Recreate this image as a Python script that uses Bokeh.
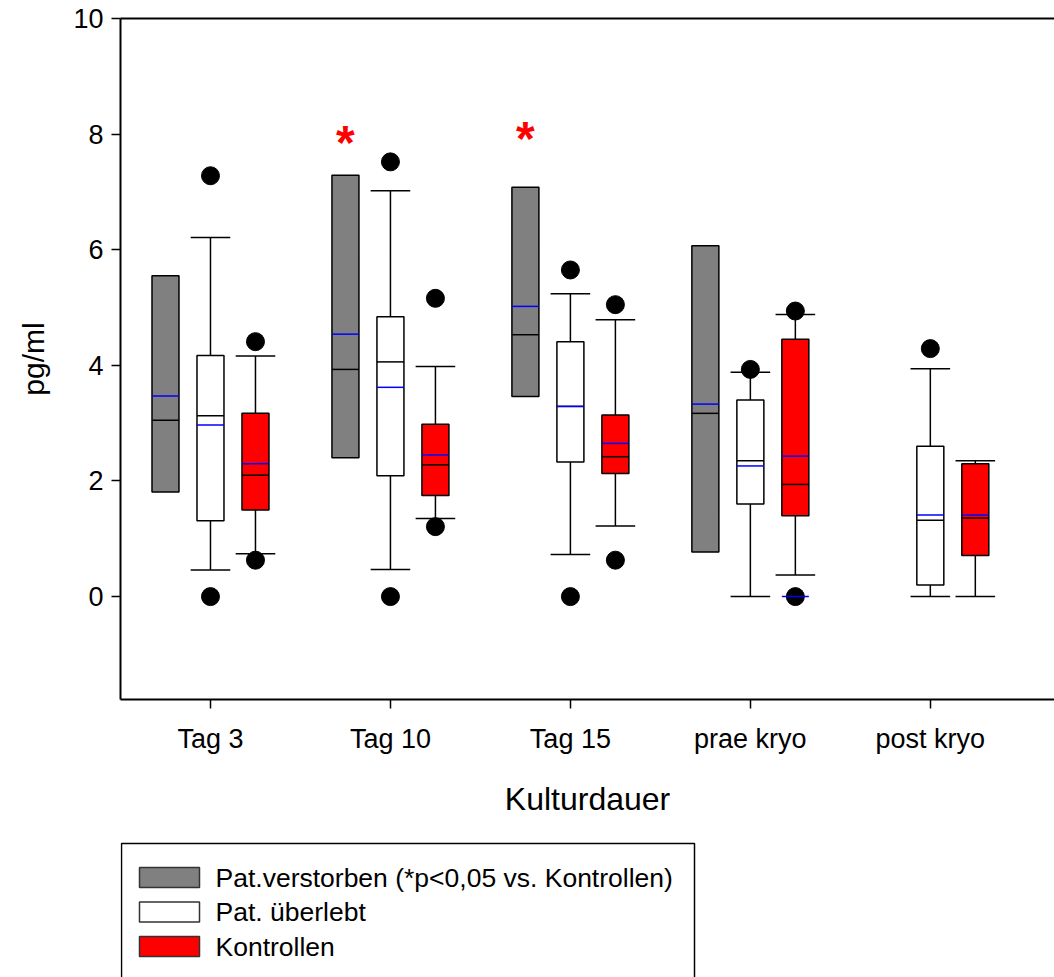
import math
from bokeh.plotting import figure
from bokeh.models import Range1d, FixedTicker, LinearAxis
from bokeh.layouts import column
from bokeh.core.properties import value
from bokeh.embed import file_html
from bokeh.resources import INLINE

nan = float("nan")

categories = ["Tag 3", "Tag 10", "Tag 15", "prae kryo", "post kryo"]

# Pat. verstorben (grey) - no whiskers
verst_q1 = [1.81, 2.40, 3.46, 0.77, nan]
verst_med = [3.05, 3.93, 4.53, 3.17, nan]
verst_mean = [3.47, 4.54, 5.02, 3.33, nan]
verst_q3 = [5.55, 7.29, 7.08, 6.07, nan]

# Pat. ueberlebt (white)
ueb_low = [0.46, 0.47, 0.73, 0.0, 0.0]
ueb_q1 = [1.31, 2.09, 2.33, 1.60, 0.20]
ueb_med = [3.13, 4.06, 3.29, 2.35, 1.32]
ueb_mean = [2.97, 3.62, 3.29, 2.26, 1.41]
ueb_q3 = [4.17, 4.84, 4.41, 3.40, 2.60]
ueb_high = [6.21, 7.02, 5.24, 3.88, 3.94]
ueb_out = [[7.28, 0.0], [7.52, 0.0], [5.65, 0.0], [3.93], [4.29]]

# Kontrollen (red)
kon_low = [0.74, 1.35, 1.22, 0.375, 0.0]
kon_q1 = [1.50, 1.75, 2.13, 1.40, 0.71]
kon_med = [2.10, 2.28, 2.42, 1.94, 1.36]
kon_mean = [2.30, 2.45, 2.65, 2.43, 1.41]
kon_q3 = [3.17, 2.98, 3.14, 4.45, 2.30]
kon_high = [4.16, 3.98, 4.79, 4.88, 2.35]
kon_out = [[4.41, 0.63], [5.16, 1.21], [5.05, 0.63], [4.94, 0.0], []]
kon_extra_blue = [nan, nan, nan, 0.0, nan]

# significance markers (* p<0.05 vs. Kontrollen)
sig_cats = ["Tag 10", "Tag 15"]
sig_y = [7.85, 7.93]

legend_labels = ["Pat.verstorben (*p<0,05 vs. Kontrollen)", "Pat. überlebt", "Kontrollen"]
legend_colors = ["#808080", "white", "#ff0000"]

FONT = "Liberation Sans"
BOX_W = 0.15
CAP_W = 0.22
OFFS = {"verst": -0.25, "ueb": 0.0, "kon": 0.25}
W = 1054
LEFT = 120

p = figure(width=W, height=830, output_backend="svg", toolbar_location=None,
           x_range=Range1d(-0.5, 4.69), y_range=Range1d(-1.78, 10),
           min_border_left=LEFT, min_border_top=18, min_border_right=0, min_border_bottom=131)
p.xgrid.visible = False
p.ygrid.visible = False
p.outline_line_color = None
p.background_fill_color = "white"

def draw_group(key, q1, med, mean, q3, fill, low=None, high=None, outs=None):
    off = OFFS[key]
    xs = [i + off for i in range(len(categories))]
    idx = [i for i in range(len(xs)) if not math.isnan(q1[i])]
    X = [xs[i] for i in idx]
    if low is not None:
        p.segment(x0=X, y0=[q3[i] for i in idx], x1=X, y1=[high[i] for i in idx], line_color="black", line_width=1.5)
        p.segment(x0=X, y0=[q1[i] for i in idx], x1=X, y1=[low[i] for i in idx], line_color="black", line_width=1.5)
        p.segment(x0=[x - CAP_W / 2 for x in X], y0=[high[i] for i in idx],
                  x1=[x + CAP_W / 2 for x in X], y1=[high[i] for i in idx], line_color="black", line_width=1.5)
        p.segment(x0=[x - CAP_W / 2 for x in X], y0=[low[i] for i in idx],
                  x1=[x + CAP_W / 2 for x in X], y1=[low[i] for i in idx], line_color="black", line_width=1.5)
    p.quad(left=[x - BOX_W / 2 for x in X], right=[x + BOX_W / 2 for x in X],
           bottom=[q1[i] for i in idx], top=[q3[i] for i in idx],
           fill_color=fill, line_color="black", line_width=1.5)
    p.segment(x0=[x - BOX_W / 2 for x in X], y0=[med[i] for i in idx],
              x1=[x + BOX_W / 2 for x in X], y1=[med[i] for i in idx], line_color="black", line_width=1.5)
    p.segment(x0=[x - BOX_W / 2 for x in X], y0=[mean[i] for i in idx],
              x1=[x + BOX_W / 2 for x in X], y1=[mean[i] for i in idx], line_color="blue", line_width=1.5)
    if outs is not None:
        ox, oy = [], []
        for i, lst in enumerate(outs):
            for v in lst:
                ox.append(xs[i]); oy.append(v)
        p.scatter(x=ox, y=oy, size=18, marker="circle", fill_color="black", line_color="black")

draw_group("verst", verst_q1, verst_med, verst_mean, verst_q3, legend_colors[0])
draw_group("ueb", ueb_q1, ueb_med, ueb_mean, ueb_q3, legend_colors[1], ueb_low, ueb_high, ueb_out)
draw_group("kon", kon_q1, kon_med, kon_mean, kon_q3, legend_colors[2], kon_low, kon_high, kon_out)

ex_idx = [i for i, v in enumerate(kon_extra_blue) if not math.isnan(v)]
p.segment(x0=[i + OFFS["kon"] - BOX_W / 2 for i in ex_idx], y0=[kon_extra_blue[i] for i in ex_idx],
          x1=[i + OFFS["kon"] + BOX_W / 2 for i in ex_idx], y1=[kon_extra_blue[i] for i in ex_idx],
          line_color="blue", line_width=1.5)

p.text(x=[categories.index(c) + OFFS["verst"] for c in sig_cats], y=sig_y, text=["*"] * len(sig_cats),
       text_color="red", text_font=value(FONT), text_font_size="48px", text_font_style="bold",
       text_align="center", text_baseline="middle")

# axes
p.yaxis.ticker = FixedTicker(ticks=[0, 2, 4, 6, 8, 10])
p.xaxis.ticker = FixedTicker(ticks=list(range(len(categories))))
p.xaxis.major_label_overrides = {i: c for i, c in enumerate(categories)}
for ax in [p.xaxis[0], p.yaxis[0]]:
    ax.axis_line_width = 2
    ax.axis_line_color = "black"
    ax.major_tick_line_width = 1.5
    ax.major_tick_line_color = "black"
    ax.major_tick_in = 0
    ax.major_tick_out = 9
    ax.minor_tick_line_color = None
    ax.major_label_text_font = FONT
    ax.major_label_text_font_size = "27px"
    ax.major_label_text_color = "black"
    ax.axis_label_text_font = FONT
    ax.axis_label_text_font_style = "normal"
    ax.axis_label_text_color = "black"
p.xaxis.axis_label = "Kulturdauer"
p.yaxis.axis_label = "pg/ml"
p.xaxis.axis_label_text_font_size = "32px"
p.yaxis.axis_label_text_font_size = "30px"
p.xaxis.major_label_standoff = 15
p.xaxis.axis_label_standoff = 24
p.yaxis.major_label_standoff = 8
p.yaxis.axis_label_standoff = 20

top_ax = LinearAxis(ticker=FixedTicker(ticks=[]), major_tick_line_color=None, minor_tick_line_color=None,
                    major_label_standoff=0, major_tick_out=0, major_tick_in=0,
                    axis_line_width=2, axis_line_color="black")
p.add_layout(top_ax, "above")

# legend panel (pixel coordinates, x = page px, y downward from panel top)
LH = 147
pl = figure(width=W, height=LH, output_backend="svg", toolbar_location=None,
            x_range=Range1d(LEFT, W), y_range=Range1d(LH, 0),
            x_axis_type=None, y_axis_type=None,
            min_border_left=LEFT, min_border_right=0, min_border_top=0, min_border_bottom=0)
pl.outline_line_color = None
pl.xgrid.visible = False
pl.ygrid.visible = False
box_left, box_right, box_top, box_bottom = 121, 694, 13, 150
sw_left, sw_w, sw_h, row0, pitch, txt_gap = 139, 60, 20, 37, 34.5, 16
n = len(legend_labels)
pl.quad(left=[box_left], right=[box_right], top=[box_top], bottom=[box_bottom],
        fill_color=None, line_color="black", line_width=1.5)
tops = [row0 + k * pitch for k in range(n)]
pl.quad(left=[sw_left] * n, right=[sw_left + sw_w] * n, top=tops, bottom=[t + sw_h for t in tops],
        fill_color=legend_colors, line_color="#333333", line_width=1.5)
pl.text(x=[sw_left + sw_w + txt_gap] * n, y=[t + sw_h / 2 for t in tops], text=legend_labels,
        text_font=value(FONT), text_font_size="26.5px", text_color="black",
        text_align="left", text_baseline="middle")

layout = column(p, pl, spacing=0)
open("out.html", "w").write(file_html(layout, INLINE))
